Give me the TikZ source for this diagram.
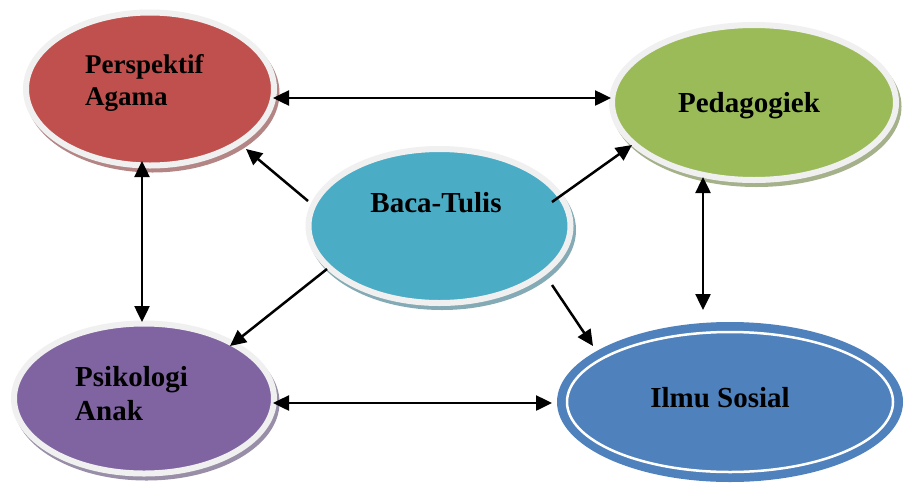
\documentclass[tikz,border=0pt]{standalone}
\usepackage{fontspec}
\setmainfont{Liberation Serif}
\usetikzlibrary{arrows.meta,shapes.geometric,backgrounds}
\definecolor{cRed}{HTML}{C0504D}
\definecolor{cGreen}{HTML}{9BBB59}
\definecolor{cTeal}{HTML}{4BACC6}
\definecolor{cPurple}{HTML}{8064A2}
\definecolor{cBlue}{HTML}{4F81BD}
\definecolor{cRim}{HTML}{F0F0F0}
\tikzset{
  bubble/.style={ellipse, draw=cRim, line width=6pt, inner sep=0pt},
  arr/.style={-{Triangle[length=16pt,width=15pt]}, line width=2.5pt},
  arrboth/.style={{Triangle[length=16pt,width=15pt]}-{Triangle[length=16pt,width=15pt]}, line width=2.5pt},
  lbl/.style={font=\bfseries\fontsize{29}{34}\selectfont, inner sep=0pt, align=left},
}
\begin{document}
\begin{tikzpicture}[x=1pt,y=-1pt]
\useasboundingbox (0,0) rectangle (904,485);

% ellipses
\node[bubble, fill=cRed, minimum width=248pt, minimum height=153pt] (pa) at (150,89) {};
\node[bubble, fill=cGreen, minimum width=284pt, minimum height=155pt] (pg) at (754,102.5) {};
\node[bubble, fill=cTeal, minimum width=262pt, minimum height=154pt] (bt) at (439.5,226) {};
\node[bubble, fill=cPurple, minimum width=260pt, minimum height=150pt] (ps) at (144,398.5) {};
\node[ellipse, fill=cBlue, minimum width=346pt, minimum height=160pt, inner sep=0pt, outer sep=0pt] (is) at (730,402) {};
\draw[white, line width=2.5pt] (is.center) ellipse [x radius=163, y radius=70];

% background and shadows
\begin{scope}[on background layer]
  \fill[white] (0,0) rectangle (904,485);
  \fill[cRed!50!gray!80!white] ([shift={(2.5,4)}]pa.center) ellipse [x radius=127, y radius=79.5];
  \fill[cGreen!50!gray!80!white] ([shift={(2.5,4)}]pg.center) ellipse [x radius=145, y radius=80.5];
  \fill[cTeal!50!gray!80!white] ([shift={(2.5,4)}]bt.center) ellipse [x radius=134, y radius=80];
  \fill[cPurple!50!gray!80!white] ([shift={(2.5,4)}]ps.center) ellipse [x radius=133, y radius=78];
\end{scope}

% labels
\node[lbl, anchor=base west, font=\bfseries\fontsize{27}{32}\selectfont] (pat) at (85,105) {Perspektif\\Agama};
\node[lbl, anchor=base] (pgt) at (749,112) {Pedagogiek};
\node[lbl, anchor=base] (btt) at (436,212) {Baca-Tulis};
\node[lbl, anchor=base west] (pst) at (75,420) {Psikologi\\Anak};
\node[lbl, anchor=base] (ist) at (720,407) {Ilmu Sosial};

% connectors
\draw[arrboth] ([shift={(123,9)}]pa.center) -- ([shift={(-143,-4.5)}]pg.center);
\draw[arrboth] ([shift={(-8,72)}]pa.center) -- ([shift={(-2,-76.5)}]ps.center);
\draw[arrboth] ([shift={(-51,74.5)}]pg.center) -- ([shift={(-27,-92)}]is.center);
\draw[arrboth] ([shift={(129,4.5)}]ps.center) -- ([shift={(-178,1)}]is.center);
\draw[arr] ([shift={(-131.5,-25)}]bt.center) -- ([shift={(96,60)}]pa.center);
\draw[arr] ([shift={(112.5,-24)}]bt.center) -- ([shift={(-122,42.5)}]pg.center);
\draw[arr] ([shift={(-112.5,43)}]bt.center) -- ([shift={(86,-52.5)}]ps.center);
\draw[arr] ([shift={(112.5,59)}]bt.center) -- ([shift={(-137,-56)}]is.center);
\end{tikzpicture}
\end{document}
